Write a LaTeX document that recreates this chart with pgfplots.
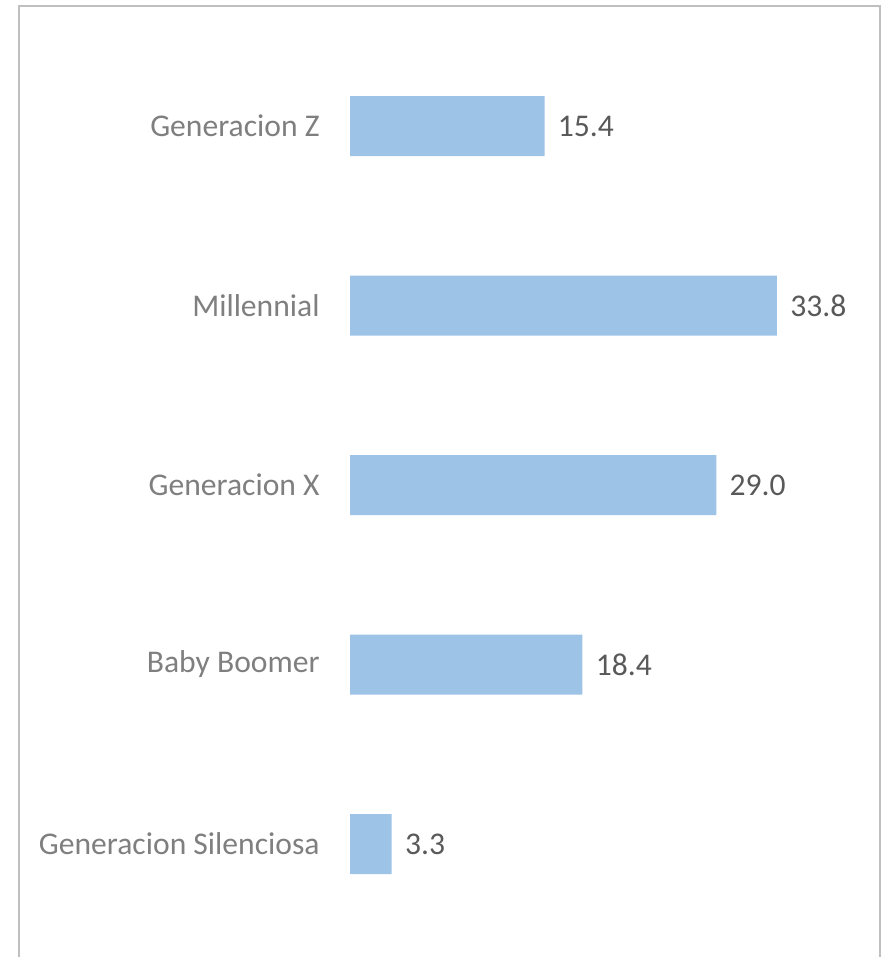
\documentclass[border=0pt]{standalone}
\usepackage{pgfplots}
\pgfplotsset{compat=1.18}
\usepackage{fontspec}
\setmainfont{Carlito}
\definecolor{barblue}{HTML}{9DC3E6}
\definecolor{valgray}{HTML}{595959}
\definecolor{catgray}{HTML}{7F7F7F}
\definecolor{framegray}{HTML}{BFBFBF}
\begin{document}
\begin{tikzpicture}
\useasboundingbox (0,0) rectangle (443pt,-478.5pt);
\draw[framegray, line width=1pt] (9.5pt,-478.5pt) -- (9.5pt,-3.25pt) -- (439.75pt,-3.25pt) -- (439.75pt,-478.5pt);
\begin{axis}[
  at={(175pt,-466.875pt)}, anchor=south west,
  scale only axis,
  width=315.75pt, height=448.75pt,
  xmin=0, xmax=50, ymin=-0.5, ymax=4.5,
  xbar, bar width=30pt,
  axis line style={draw=none},
  xtick=\empty,
  ytick={0,1,2,3,4},
  yticklabels={Generacion Silenciosa, Baby Boomer, Generacion X, Millennial, Generacion Z},
  major tick length=0pt,
  y tick label style={font=\fontsize{15.8}{19}\selectfont, text=catgray, inner sep=0pt, xshift=-15pt, anchor=east},
  /pgf/number format/assume math mode=true,
  nodes near coords,
  nodes near coords style={font=\fontsize{15.8}{19}\selectfont, text=valgray, inner sep=0pt, xshift=6.5pt, anchor=west,
    /pgf/number format/.cd, fixed, fixed zerofill, precision=1, assume math mode=true},
  clip=false,
]
\addplot[fill=barblue, draw=none] coordinates {(3.3,0) (18.4,1) (29.0,2) (33.8,3) (15.4,4)};
\end{axis}
\end{tikzpicture}
\end{document}
